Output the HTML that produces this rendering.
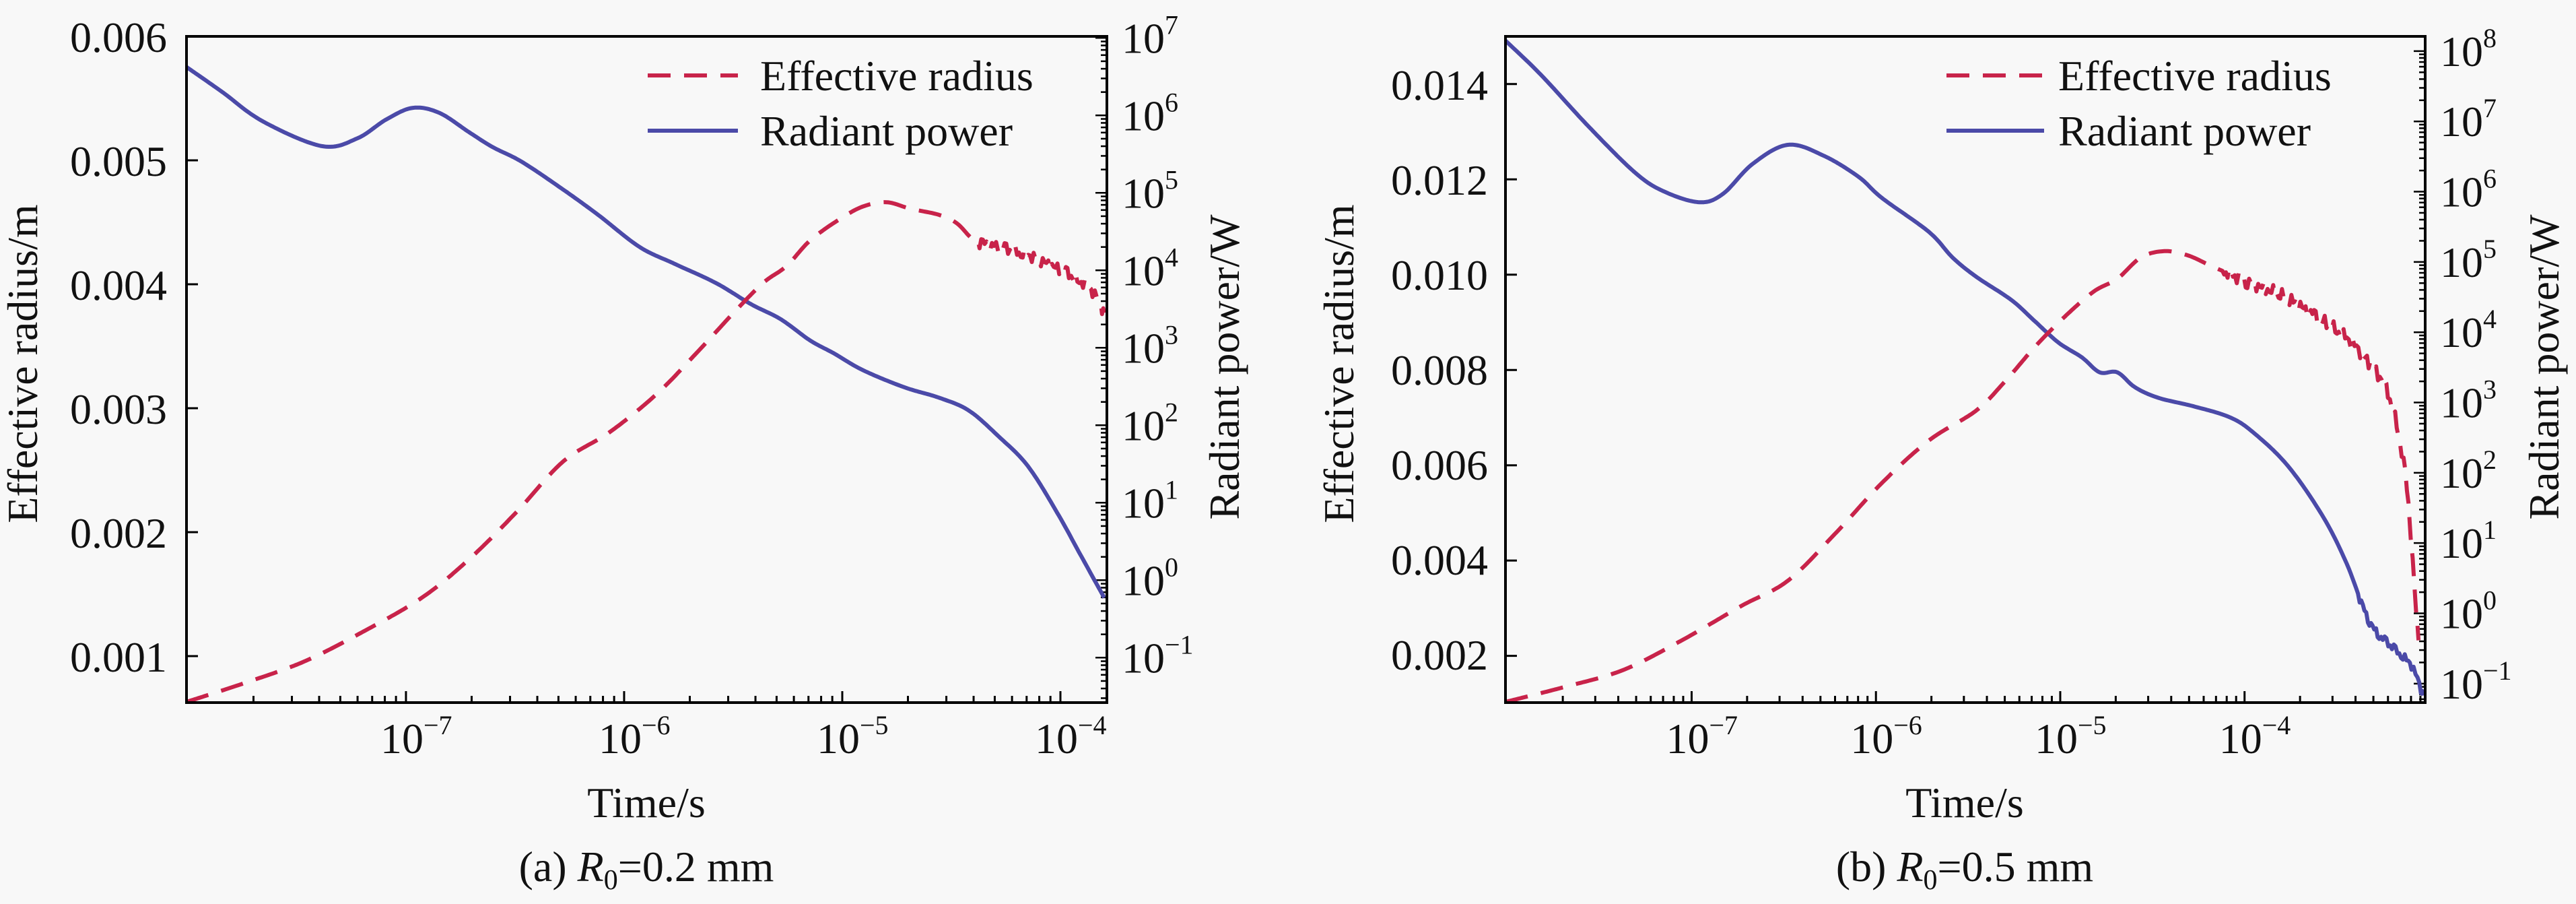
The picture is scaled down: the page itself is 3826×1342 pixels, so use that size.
<!DOCTYPE html>
<html><head><meta charset="utf-8">
<style>
html,body{margin:0;padding:0;background:#f8f8f8;}
svg{display:block;}
text{font-family:"Liberation Serif",serif;fill:#111;}
</style></head>
<body>
<svg id="s" width="3826" height="1342" viewBox="0 0 3826 1342" xmlns="http://www.w3.org/2000/svg">
<rect width="3826" height="1342" fill="#f8f8f8"/>
<g id="g"></g>
<g font-size="64">
<text x="248" y="77" text-anchor="end">0.006</text>
<text x="248" y="261" text-anchor="end">0.005</text>
<text x="248" y="445" text-anchor="end">0.004</text>
<text x="248" y="629" text-anchor="end">0.003</text>
<text x="248" y="813" text-anchor="end">0.002</text>
<text x="248" y="997" text-anchor="end">0.001</text>
<text transform="translate(55,540) rotate(-90)" text-anchor="middle">Effective radius/m</text>
<text transform="translate(1840,545) rotate(-90)" text-anchor="middle">Radiant power/W</text>
<text x="960" y="1213" text-anchor="middle">Time/s</text>
<text x="960" y="1308" text-anchor="middle">(a) <tspan font-style="italic">R</tspan><tspan font-size="42" dy="12">0</tspan><tspan dy="-12">=0.2 mm</tspan></text>
<text x="1129" y="134">Effective radius</text>
<text x="1129" y="216">Radiant power</text>
</g>
<g font-size="64">
<text x="2210" y="148" text-anchor="end">0.014</text>
<text x="2210" y="289" text-anchor="end">0.012</text>
<text x="2210" y="430" text-anchor="end">0.010</text>
<text x="2210" y="571" text-anchor="end">0.008</text>
<text x="2210" y="712" text-anchor="end">0.006</text>
<text x="2210" y="853" text-anchor="end">0.004</text>
<text x="2210" y="994" text-anchor="end">0.002</text>
<text transform="translate(2010,540) rotate(-90)" text-anchor="middle">Effective radius/m</text>
<text transform="translate(3800,545) rotate(-90)" text-anchor="middle">Radiant power/W</text>
<text x="2918" y="1213" text-anchor="middle">Time/s</text>
<text x="2918" y="1308" text-anchor="middle">(b) <tspan font-style="italic">R</tspan><tspan font-size="42" dy="12">0</tspan><tspan dy="-12">=0.5 mm</tspan></text>
<text x="3057" y="134">Effective radius</text>
<text x="3057" y="216">Radiant power</text>
</g>
<g id="lab" font-size="64"></g>
</svg>
<script>
var NS="http://www.w3.org/2000/svg";
var g=document.getElementById('g'), lab=document.getElementById('lab');
function el(p,tag,a){var e=document.createElementNS(NS,tag);for(var k in a)e.setAttribute(k,a[k]);p.appendChild(e);return e;}
function line(x1,y1,x2,y2,w){el(g,'line',{x1:x1,y1:y1,x2:x2,y2:y2,stroke:'#000','stroke-width':w||3});}
function sup(x,y,exp,anchor){var t=el(lab,'text',{x:x,y:y,'text-anchor':anchor||'start'});t.textContent='10';var s=el(t,'tspan',{'font-size':40,dy:-28});s.textContent=exp;}
var RED='#c8234a',BLUE='#4b4aa8';
function panel(P){
  var L=P.L,R=P.R,T=54,B=1043;
  for(var d=-9;d<=-3;d++){for(var m=1;m<10;m++){var lx=Math.log10(m)+d;if(lx<P.xmin+0.02||lx>P.xmax)continue;
    var x=L+(lx-P.xmin)/(P.xmax-P.xmin)*(R-L);line(x,B,x,B-(m==1?17:10),3);
    if(m==1){var ex=(d<0?'\u2212':'')+Math.abs(d);sup(x-38,1118,ex);}}}
  P.lt.forEach(function(v){var y=T+(P.lmax-v)/(P.lmax-P.lmin)*(B-T);line(L,y,L+17,y,3);});
  for(var d=-2;d<=9;d++){for(var m=1;m<10;m++){var ly=Math.log10(m)+d;if(ly<P.rmin||ly>P.rmax)continue;
    var y=T+(P.rmax-ly)/(P.rmax-P.rmin)*(B-T);line(R,y,R-(m==1?17:9),y,2.5);
    if(m==1){var ex=(d<0?'\u2212':'')+Math.abs(d);sup(R+22,y+22,ex);}}}
  function path(pts,noiseFrom,amp){var s='';var N=pts.length;
    for(var i=0;i<N-1;i++){var p0=pts[Math.max(0,i-1)],p1=pts[i],p2=pts[i+1],p3=pts[Math.min(N-1,i+2)];
      var n=Math.max(3,Math.round((p2[0]-p1[0])/3));
      for(var j=0;j<n;j++){var t=j/n,t2=t*t,t3=t2*t;
        var zx=0.5*((2*p1[0])+(-p0[0]+p2[0])*t+(2*p0[0]-5*p1[0]+4*p2[0]-p3[0])*t2+(-p0[0]+3*p1[0]-3*p2[0]+p3[0])*t3);
        var zy=0.5*((2*p1[1])+(-p0[1]+p2[1])*t+(2*p0[1]-5*p1[1]+4*p2[1]-p3[1])*t2+(-p0[1]+3*p1[1]-3*p2[1]+p3[1])*t3);
        if(noiseFrom!=null&&zx>noiseFrom){var k=Math.round(zx/4);zy+=(k%2?1:-1)*amp*(0.5+0.5*Math.sin(k*1.7));}
        var X=L+zx/1.1445,Y=54+zy/1.584;s+=(s?'L':'M')+X.toFixed(1)+' '+Y.toFixed(1);}}
    var e=pts[N-1];s+='L'+(L+e[0]/1.1445).toFixed(1)+' '+(54+e[1]/1.584).toFixed(1);return s;}
  el(g,'path',{d:path(P.blue,P.bn,P.ba),fill:'none',stroke:BLUE,'stroke-width':6,'stroke-linejoin':'round'});
  el(g,'path',{d:path(P.red,P.rn,P.ra),fill:'none',stroke:RED,'stroke-width':6,'stroke-dasharray':'34 20','stroke-linejoin':'round'});
  el(g,'line',{x1:P.lg[0],y1:112,x2:P.lg[1],y2:112,stroke:RED,'stroke-width':6,'stroke-dasharray':'34 20'});
  el(g,'line',{x1:P.lg[0],y1:194,x2:P.lg[1],y2:194,stroke:BLUE,'stroke-width':6});
  el(g,'rect',{x:L,y:T,width:R-L,height:B-T,fill:'none',stroke:'#000','stroke-width':4});
}
panel({L:277,R:1644,xmin:-8.006,xmax:-3.787,lmin:0.000625,lmax:0.006,lt:[0.001,0.002,0.003,0.004,0.005,0.006],
  rmin:-1.58,rmax:7.02,lg:[962,1096],
  blue:[[0,72],[60,130],[130,200],[230,258],[290,240],[340,195],[385,168],[430,180],[480,225],[520,260],[570,295],[640,360],[700,420],[770,495],[830,535],[900,580],[960,630],[1010,665],[1060,715],[1100,745],[1150,785],[1220,825],[1280,850],[1330,880],[1380,940],[1430,1010],[1480,1120],[1520,1220],[1560,1320]],
  red:[[0,1565],[100,1520],[200,1470],[300,1400],[400,1320],[480,1230],[560,1120],[640,1000],[720,930],[800,840],[870,740],[930,650],[980,580],[1020,540],[1060,480],[1110,430],[1150,400],[1190,390],[1230,405],[1280,420],[1310,440],[1340,480],[1380,495],[1440,520],[1500,560],[1540,600],[1560,650]],
  bn:null,ba:0,rn:1340,ra:14});
panel({L:2236,R:3602,xmin:-8.01,xmax:-3.02,lmin:0.00102,lmax:0.015,lt:[0.002,0.004,0.006,0.008,0.010,0.012,0.014],
  rmin:-1.27,rmax:8.21,lg:[2891,3036],
  blue:[[0,10],[60,90],[140,210],[220,320],[270,365],[330,390],[370,370],[420,300],[480,255],[540,280],[600,330],[640,380],[720,460],[760,520],[800,565],[860,620],[900,670],[940,720],[980,755],[1010,790],[1040,790],[1070,825],[1110,850],[1170,870],[1230,895],[1270,930],[1330,1010],[1390,1130],[1430,1240],[1460,1350],[1480,1400],[1510,1440],[1540,1480],[1560,1550]],
  red:[[0,1565],[100,1530],[200,1490],[300,1420],[400,1340],[480,1280],[560,1170],[640,1050],[720,950],[800,880],[850,810],[900,730],[950,660],[1000,600],[1040,570],[1080,520],[1120,505],[1160,515],[1200,540],[1250,570],[1320,610],[1380,660],[1430,710],[1470,770],[1500,840],[1520,950],[1535,1100],[1545,1300],[1552,1420]],
  bn:1450,ba:10,rn:1220,ra:16});
</script>
</body></html>
